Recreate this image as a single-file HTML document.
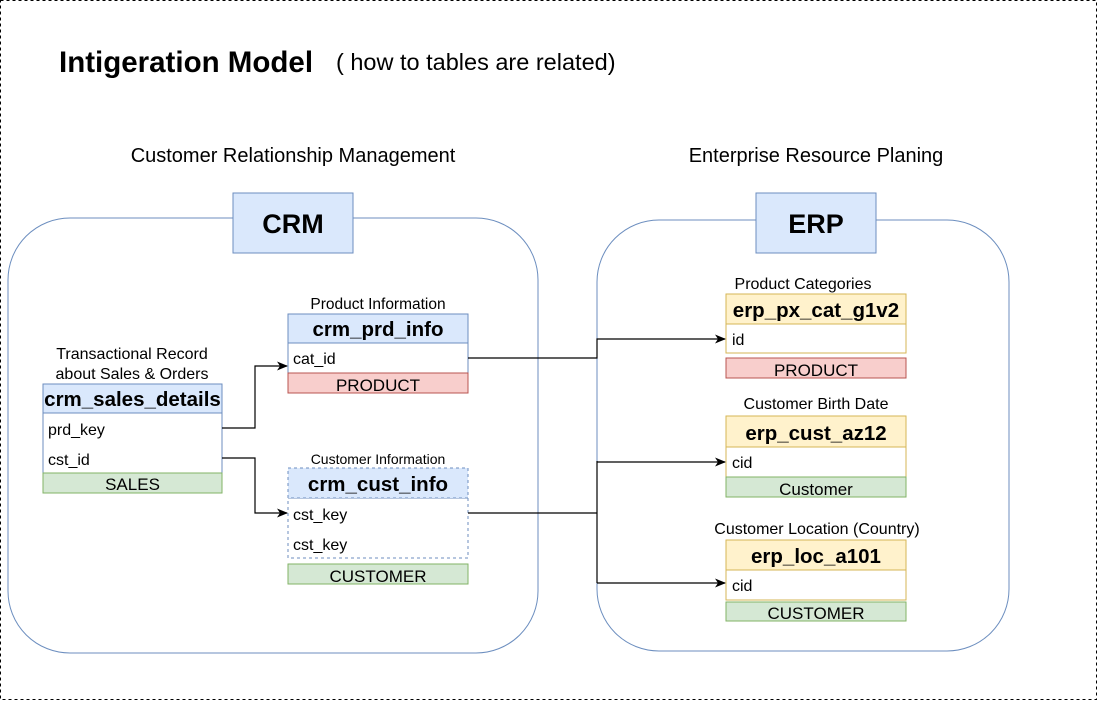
<!DOCTYPE html>
<html><head><meta charset="utf-8"><style>
html,body{margin:0;padding:0;background:#fff;}
svg{display:block;font-family:"Liberation Sans",Arial,sans-serif;}
</style></head><body>
<svg width="1098" height="701" viewBox="0 0 1098 701" xmlns="http://www.w3.org/2000/svg">
<defs><marker id="a" markerWidth="12" markerHeight="12" refX="10" refY="6" orient="auto" markerUnits="userSpaceOnUse"><path d="M0,1.5 L11,6 L0,10.5 L3,6 Z" fill="#000"/></marker></defs>
<rect x="0.5" y="0.5" width="1096" height="699" fill="#fff" stroke="#000" stroke-dasharray="3,3"/>
<text x="59" y="72" font-size="29.5" font-weight="bold">Intigeration Model</text>
<text x="336" y="70" font-size="23.5">( how to tables are related)</text>
<text x="293" y="162" font-size="20" text-anchor="middle">Customer Relationship Management</text>
<text x="816" y="162" font-size="20" text-anchor="middle">Enterprise Resource Planing</text>
<rect x="8" y="218" width="530" height="435" rx="62" fill="none" stroke="#6c8ebf"/>
<rect x="597" y="220" width="412" height="431" rx="62" fill="none" stroke="#6c8ebf"/>
<rect x="233" y="193" width="120" height="60" fill="#dae8fc" stroke="#6c8ebf"/>
<text x="293" y="233" font-size="27" font-weight="bold" text-anchor="middle">CRM</text>
<rect x="756" y="193" width="120" height="60" fill="#dae8fc" stroke="#6c8ebf"/>
<text x="816" y="233" font-size="27" font-weight="bold" text-anchor="middle">ERP</text>
<g font-size="16">
<text x="132" y="359" text-anchor="middle">Transactional Record</text>
<text x="132" y="379" text-anchor="middle">about Sales &amp; Orders</text>
<rect x="43" y="413" width="179" height="60" fill="#fff" stroke="#6c8ebf"/>
<rect x="43" y="384" width="179" height="29" fill="#dae8fc" stroke="#6c8ebf"/>
<text x="132.5" y="406" text-anchor="middle" font-size="20.5" font-weight="bold">crm_sales_details</text>
<text x="48" y="435">prd_key</text>
<text x="48" y="465">cst_id</text>
<rect x="43" y="473" width="179" height="20" fill="#d5e8d4" stroke="#82b366"/>
<text x="132.5" y="490" text-anchor="middle" font-size="17">SALES</text>
<text x="378" y="309" text-anchor="middle" font-size="15.5">Product Information</text>
<rect x="288" y="343" width="180" height="30" fill="#fff" stroke="#6c8ebf"/>
<rect x="288" y="314" width="180" height="29" fill="#dae8fc" stroke="#6c8ebf"/>
<text x="378" y="336" text-anchor="middle" font-size="20.5" font-weight="bold">crm_prd_info</text>
<text x="293" y="364">cat_id</text>
<rect x="288" y="373" width="180" height="20" fill="#f8cecc" stroke="#b85450"/>
<text x="378" y="391" text-anchor="middle" font-size="17">PRODUCT</text>
<text x="378" y="464" text-anchor="middle" font-size="14">Customer Information</text>
<rect x="288" y="498" width="180" height="60" fill="#fff" stroke="#6c8ebf" stroke-dasharray="3,3"/>
<rect x="288" y="468" width="180" height="30" fill="#dae8fc" stroke="#6c8ebf" stroke-dasharray="3,3"/>
<text x="378" y="491" text-anchor="middle" font-size="20.5" font-weight="bold">crm_cust_info</text>
<text x="293" y="520">cst_key</text>
<text x="293" y="550">cst_key</text>
<rect x="288" y="564" width="180" height="20" fill="#d5e8d4" stroke="#82b366"/>
<text x="378" y="582" text-anchor="middle" font-size="17">CUSTOMER</text>
<text x="803" y="289" text-anchor="middle">Product Categories</text>
<rect x="726" y="324" width="180" height="29" fill="#fff" stroke="#d6b656"/>
<rect x="726" y="294" width="180" height="30" fill="#fff2cc" stroke="#d6b656"/>
<text x="816" y="317" text-anchor="middle" font-size="20.5" font-weight="bold">erp_px_cat_g1v2</text>
<text x="732" y="345">id</text>
<rect x="726" y="358" width="180" height="20" fill="#f8cecc" stroke="#b85450"/>
<text x="816" y="376" text-anchor="middle" font-size="17">PRODUCT</text>
<text x="816" y="409" text-anchor="middle">Customer  Birth Date</text>
<rect x="726" y="447" width="180" height="30" fill="#fff" stroke="#d6b656"/>
<rect x="726" y="416" width="180" height="31" fill="#fff2cc" stroke="#d6b656"/>
<text x="816" y="440" text-anchor="middle" font-size="20.5" font-weight="bold">erp_cust_az12</text>
<text x="732" y="468">cid</text>
<rect x="726" y="477" width="180" height="20" fill="#d5e8d4" stroke="#82b366"/>
<text x="816" y="495" text-anchor="middle" font-size="17">Customer</text>
<text x="817" y="534" text-anchor="middle">Customer Location (Country)</text>
<rect x="726" y="570" width="180" height="30" fill="#fff" stroke="#d6b656"/>
<rect x="726" y="540" width="180" height="30" fill="#fff2cc" stroke="#d6b656"/>
<text x="816" y="563" text-anchor="middle" font-size="20.5" font-weight="bold">erp_loc_a101</text>
<text x="732" y="591">cid</text>
<rect x="726" y="602" width="180" height="19" fill="#d5e8d4" stroke="#82b366"/>
<text x="816" y="619" text-anchor="middle" font-size="17">CUSTOMER</text>
</g>
<g fill="none" stroke="#000" stroke-width="1.2">
<path d="M222,428 H255 V366 H287" marker-end="url(#a)"/>
<path d="M222,458 H255 V513 H287" marker-end="url(#a)"/>
<path d="M468,358 H597 V339 H725" marker-end="url(#a)"/>
<path d="M468,513 H597"/>
<path d="M597,461 V583"/>
<path d="M597,462 H725" marker-end="url(#a)"/>
<path d="M597,583 H725" marker-end="url(#a)"/>
</g>
</svg>
</body></html>
